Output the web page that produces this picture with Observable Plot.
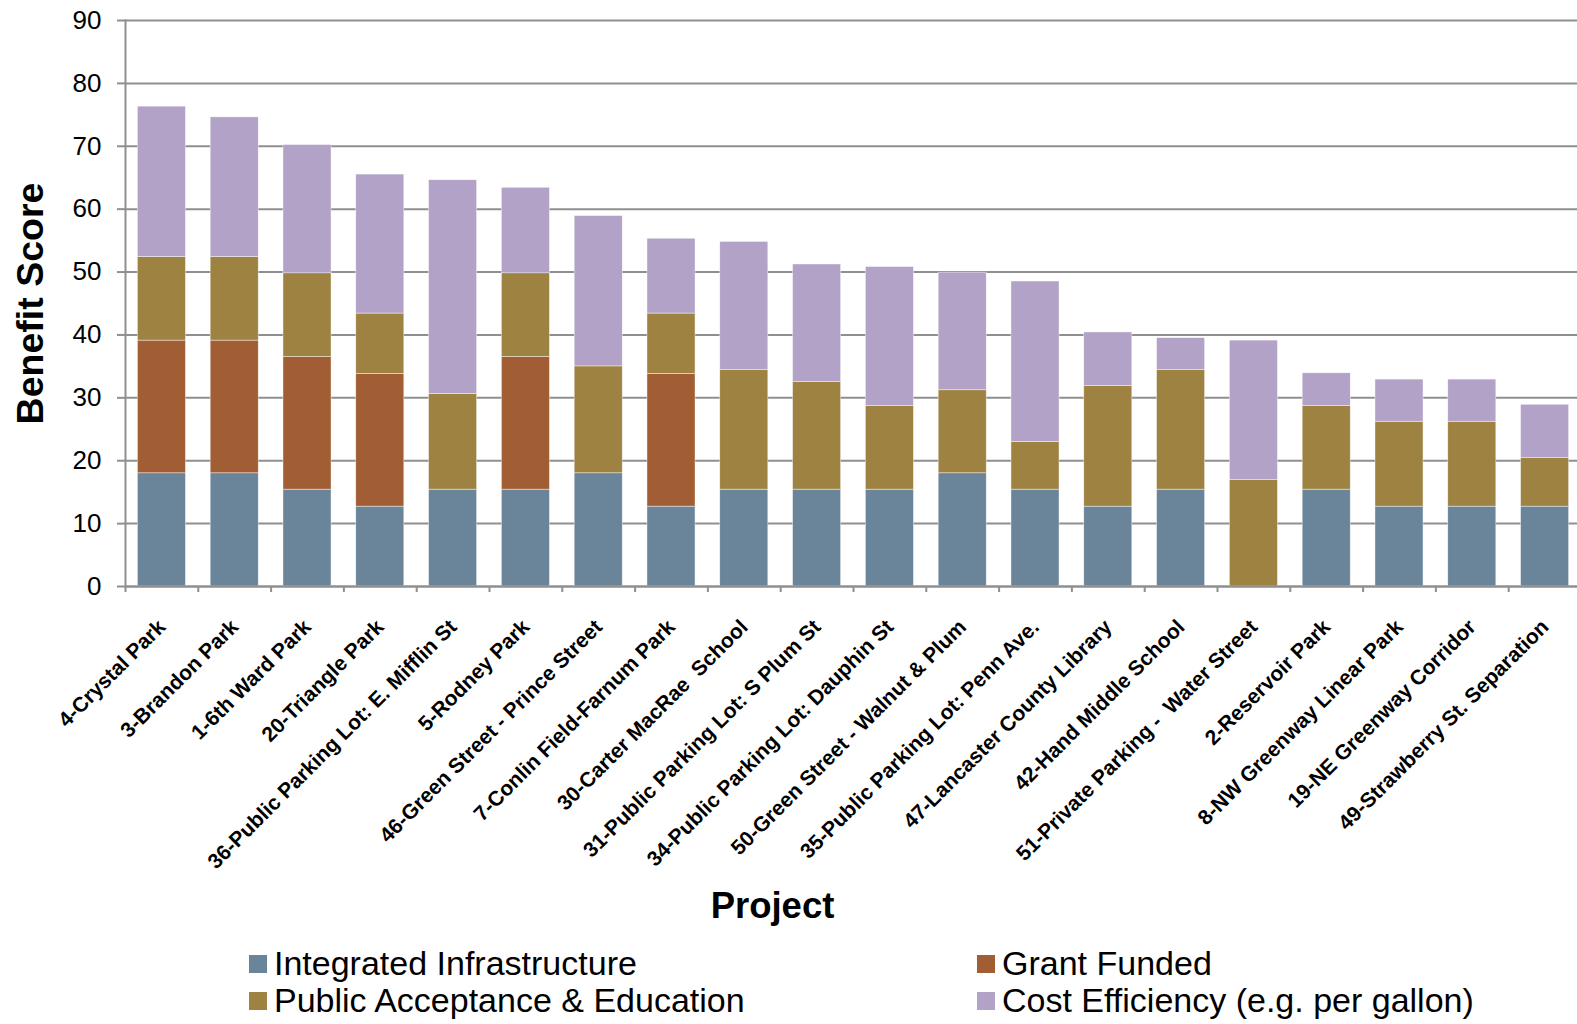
<!DOCTYPE html>
<html>
<head>
<meta charset="utf-8">
<script src="https://cdn.jsdelivr.net/npm/d3@7"></script>
<script src="https://cdn.jsdelivr.net/npm/@observablehq/plot@0.6"></script>
<style>
  html, body { margin: 0; padding: 0; background: #fff; overflow: hidden; }
  body { width: 1577px; height: 1024px; position: relative; font-family: "Liberation Sans", Arial, sans-serif; }
  svg text { white-space: pre; }
  #chart { width: 1581px; }
  #chart svg { display: block; max-width: none !important; }
  .legend-item { position: absolute; font-size: 34px; line-height: 34px; color: #000; white-space: pre; }
  .swatch { position: absolute; width: 18px; height: 18px; }
</style>
</head>
<body>
<div id="chart"></div>
<div id="legend"></div>
<script>
// ---- data ----
const projects = [
  "4-Crystal Park", "3-Brandon Park", "1-6th Ward Park", "20-Triangle Park",
  "36-Public Parking Lot: E. Mifflin St", "5-Rodney Park", "46-Green Street - Prince Street",
  "7-Conlin Field-Farnum Park", "30-Carter MacRae  School", "31-Public Parking Lot: S Plum St",
  "34-Public Parking Lot: Dauphin St", "50-Green Street - Walnut & Plum",
  "35-Public Parking Lot: Penn Ave.", "47-Lancaster County Library", "42-Hand Middle School",
  "51-Private Parking -  Water Street", "2-Reservoir Park", "8-NW Greenway Linear Park",
  "19-NE Greenway Corridor", "49-Strawberry St. Separation"
];
const seriesNames = [
  "Integrated Infrastructure", "Grant Funded",
  "Public Acceptance & Education", "Cost Efficiency (e.g. per gallon)"
];
const seriesColors = ["#6a8599", "#a15d33", "#9e8242", "#b3a2c7"];
const integrated = [18, 18, 15.4, 12.7, 15.4, 15.4, 18, 12.7, 15.4, 15.4, 15.4, 18, 15.4, 12.7, 15.4, 0, 15.4, 12.7, 12.7, 12.7];
const grant      = [21.1, 21.1, 21.1, 21.1, 0, 21.1, 0, 21.1, 0, 0, 0, 0, 0, 0, 0, 0, 0, 0, 0, 0];
const publicAcc  = [13.3, 13.3, 13.3, 9.6, 15.2, 13.3, 17.0, 9.6, 19.0, 17.1, 13.3, 13.2, 7.6, 19.2, 19.0, 16.9, 13.3, 13.5, 13.5, 7.7];
const cost       = [23.9, 22.2, 20.4, 22.1, 34.0, 13.6, 23.9, 11.9, 20.4, 18.7, 22.1, 18.7, 25.5, 8.5, 5.1, 22.2, 5.2, 6.7, 6.7, 8.5];
const yTicks = [0, 10, 20, 30, 40, 50, 60, 70, 80, 90];
const yTitle = "Benefit Score";
const xTitle = "Project";

// ---- tidy table ----
const seriesValues = [integrated, grant, publicAcc, cost];
const table = [];
seriesNames.forEach((s, si) => {
  projects.forEach((p, pi) => table.push({project: p, series: s, value: seriesValues[si][pi]}));
});

// ---- layout ----
const width = 1581, height = 940;
const marginLeft = 125, marginRight = 0, marginTop = 20, marginBottom = 354;
const step = (width - marginLeft - marginRight) / projects.length;
const barInset = step * 0.17;
const gridColor = "#8f8f8f";

const chart = Plot.plot({
  width, height, marginLeft, marginRight, marginTop, marginBottom,
  style: {fontFamily: "'Liberation Sans', Arial, sans-serif", background: "#fff", color: "#000"},
  x: {type: "band", domain: projects, padding: 0, round: false, axis: null},
  y: {domain: [0, 90], axis: null},
  color: {domain: seriesNames, range: seriesColors},
  marks: [
    Plot.gridY(yTicks, {stroke: gridColor, strokeOpacity: 1, strokeWidth: 2}),
    Plot.barY(table, {x: "project", y: "value", fill: "series", insetLeft: barInset, insetRight: barInset,
      stroke: "#ffffff", strokeWidth: 0.6, strokeOpacity: 0.7}),
    Plot.frame({anchor: "left", stroke: gridColor, strokeWidth: 2}),
    Plot.ruleY([0], {stroke: gridColor, strokeWidth: 2}),
    Plot.axisY(yTicks, {tickSize: 8, tickPadding: 16, fontSize: 26, stroke: gridColor, strokeWidth: 2, fill: "#000", label: null}),
    Plot.axisX(projects, {tickSize: 6, tickFormat: () => "", dx: -step / 2, stroke: gridColor, strokeWidth: 2, label: null}),
    Plot.text(projects, {x: d => d, text: d => d, frameAnchor: "bottom", dy: 37, rotate: -45,
      textAnchor: "end", lineAnchor: "middle", fontSize: 21, fontWeight: "bold", fill: "#000"}),
    Plot.text([yTitle], {text: d => d, frameAnchor: "left", dx: -95, rotate: -90,
      textAnchor: "middle", lineAnchor: "middle", fontSize: 37.5, fontWeight: "bold", fill: "#000"}),
    Plot.text([xTitle], {text: d => d, frameAnchor: "bottom-left", dx: 647, dy: 320,
      textAnchor: "middle", lineAnchor: "middle", fontSize: 36.5, fontWeight: "bold", fill: "#000"})
  ]
});
document.getElementById("chart").appendChild(chart);

// ---- legend (built from series arrays) ----
const legend = document.getElementById("legend");
const colX = [249, 977];
const rowY = [955, 992];
seriesNames.forEach((name, i) => {
  const col = i % 2, row = Math.floor(i / 2);
  const sw = document.createElement("div");
  sw.className = "swatch";
  sw.style.left = colX[col] + "px";
  sw.style.top = rowY[row] + "px";
  sw.style.background = seriesColors[i];
  legend.appendChild(sw);
  const tx = document.createElement("div");
  tx.className = "legend-item";
  tx.style.left = (colX[col] + 25) + "px";
  tx.style.top = (rowY[row] - 9) + "px";
  tx.textContent = name;
  legend.appendChild(tx);
});
</script>
</body>
</html>
